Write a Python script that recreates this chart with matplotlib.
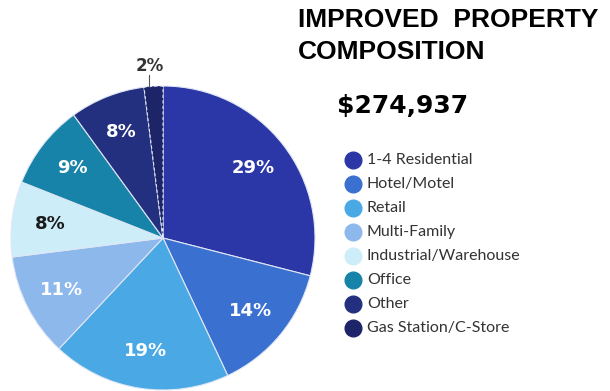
import matplotlib.pyplot as plt

categories = ["1-4 Residential", "Hotel/Motel", "Retail", "Multi-Family",
              "Industrial/Warehouse", "Office", "Other", "Gas Station/C-Store"]
shares = [29, 14, 19, 11, 8, 9, 8, 2]
colors = ["#2b37a6", "#3a70cf", "#4aa9e5", "#8db8ec",
          "#cdeef8", "#1783a8", "#23307f", "#1d2468"]
label_colors = ["white", "white", "white", "white", "#1a1a1a", "white", "white", "#333333"]
title = "IMPROVED  PROPERTY\nCOMPOSITION"
total = "$274,937"

fig = plt.figure(figsize=(6.1, 3.91), dpi=100)

# pie axes sits on the left, nearly touching the bottom edge
ax = fig.add_axes([11/610, 1/391, 304/610, 304/391])
wedges, texts, autotexts = ax.pie(
    shares, colors=colors, startangle=90, counterclock=False,
    autopct="%d%%", pctdistance=0.75,
    wedgeprops=dict(edgecolor="#dfe6f5", linewidth=0.8),
    textprops=dict(fontsize=13, fontweight="bold", family="DejaVu Sans"))
ax.set_xlim(-1, 1)
ax.set_ylim(-1, 1)
ax.set_aspect("equal")
ax.axis("off")

for t, c in zip(autotexts, label_colors):
    t.set_color(c)

# dashed divider for the small gas station slice
wedges[-1].set_linestyle((0, (3, 2)))

# small slice: label goes outside with a short leader
small = autotexts[-1]
small.set_position((-0.085, 1.13))
small.set_fontsize(12)
small.set_clip_on(False)
ax.plot([-0.09, -0.09], [1.0, 1.07], color="#555555", lw=0.8, clip_on=False)

fig.text(298/610, 1 - 8/391, title, fontsize=19, fontweight="bold",
         family="Liberation Sans", va="top", ha="left", linespacing=1.4,
         multialignment="left")
fig.text(337/610, 1 - 113/391, total, fontsize=18, fontweight="bold",
         family="DejaVu Sans", va="baseline", ha="left")

# legend drawn as markers and text in figure coordinates
for i, (name, c) in enumerate(zip(categories, colors)):
    y = 1 - (160 + 24 * i) / 391
    fig.lines.append(plt.Line2D([353/610], [y], marker="o", markersize=12,
                                color=c, transform=fig.transFigure))
    fig.text(367/610, y, name, fontsize=11.5, family="Lato", color="#333333",
             va="center", ha="left")

fig.savefig("out.png", dpi=100)
